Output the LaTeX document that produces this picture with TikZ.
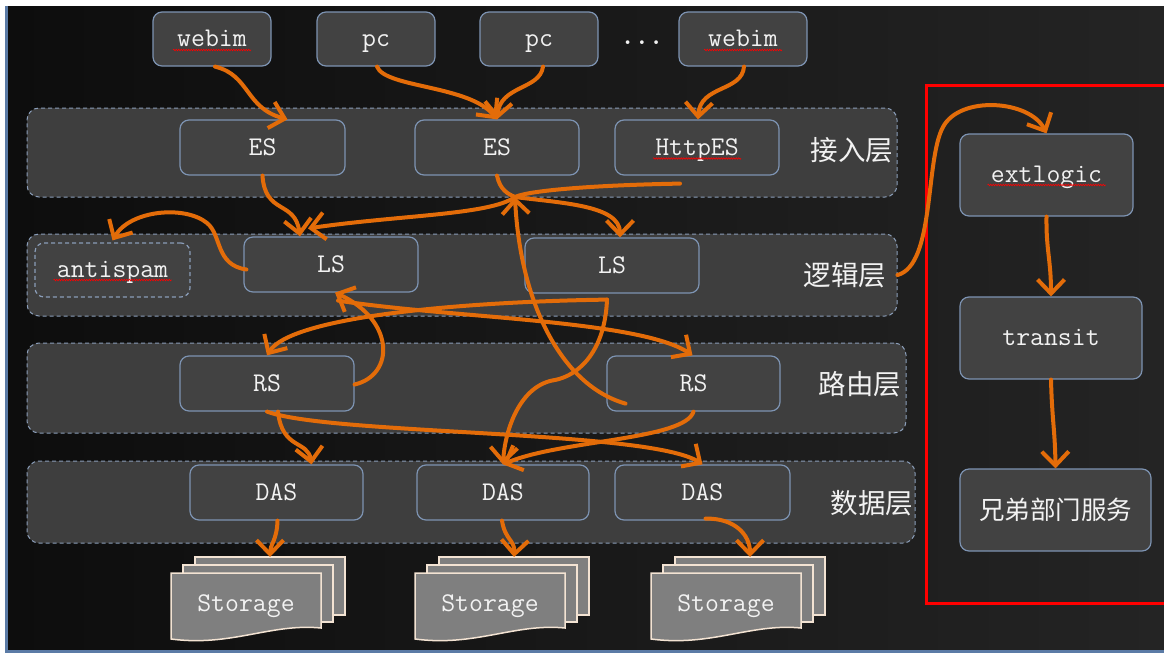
\documentclass[tikz,border=0pt]{standalone}
\usepackage{fontspec}
\newfontfamily\cjk{Noto Sans CJK SC}
\usetikzlibrary{arrows.meta,decorations.pathmorphing}
\definecolor{bgL}{HTML}{0D0D0D}
\definecolor{bgR}{HTML}{242424}
\definecolor{boxfill}{HTML}{424242}
\definecolor{boxline}{HTML}{7D93B2}
\definecolor{bandfill}{HTML}{3E3E3E}
\definecolor{bandline}{HTML}{8A9DB8}
\definecolor{arr}{HTML}{E36C09}
\definecolor{txt}{HTML}{F2F2F2}
\definecolor{stfill}{HTML}{7F7F7F}
\definecolor{stline}{HTML}{F3E3D3}
\definecolor{framec}{HTML}{5B7BA6}
\tikzset{
  box/.style={draw=boxline, fill=boxfill, rounded corners=9pt, line width=1.2pt, text=txt,
    font=\ttfamily\fontsize{27}{27}\selectfont, inner sep=0pt, text height=19pt, text depth=4pt},
  dbox/.style={box, draw=bandline, dash pattern=on 4pt off 3pt},
  band/.style={draw=bandline, fill=bandfill, dash pattern=on 4pt off 3pt, rounded corners=12pt, line width=1pt, inner sep=0pt},
  layerlbl/.style={text=txt, font=\cjk\fontsize{27.5}{27.5}\selectfont},
  cjkbox/.style={draw=boxline, fill=boxfill, rounded corners=9pt, line width=1.2pt, text=txt,
    font=\cjk\fontsize{25.5}{25.5}\selectfont, inner sep=0pt},
  flow/.style={draw=arr, line width=4pt, line cap=round, line join=round,
    -{Straight Barb[length=14pt,width=27pt]}},
  squig/.style={draw=red, line width=0.6pt, decorate, decoration={snake, amplitude=0.8pt, segment length=2.5pt}},
  doc/.style={draw=stline, fill=stfill, line width=1.5pt},
  doctext/.style={text=txt, font=\ttfamily\fontsize{27}{27}\selectfont, inner sep=0pt},
}
\newcommand{\stackdoc}[2]{%
  \begin{scope}[shift={(#1)}]
    \draw[doc] (24,-16) rectangle (174,42);
    \draw[doc] (12,-8) rectangle (162,49);
    \draw[doc] (0,0) -- (150,0) -- (150,55) .. controls (100,50) and (60,74) .. (0,66) -- cycle;
    \node[doctext] (#2) at (75,33) {Storage};
    \coordinate (#2top) at (99,-16);
  \end{scope}}
\begin{document}
\begin{tikzpicture}[x=1pt,y=-1pt]
\useasboundingbox (0,0) rectangle (1164,653);
\clip (0,0) rectangle (1164,653);
% background
\fill[white] (0,0) rectangle (1164,653);
\shade[left color=bgL, right color=bgR] (8,6) rectangle (1164,650);
\fill[framec] (5,6) rectangle (8,653);
\fill[framec] (5,650) rectangle (1164,653);

% layer bands
\node[band, minimum width=870pt, minimum height=89pt] (L1) at (462,152.5) {};
\node[band, minimum width=870pt, minimum height=82pt] (L2) at (462,275) {};
\node[band, minimum width=879pt, minimum height=90pt] (L3) at (466.5,388) {};
\node[band, minimum width=888pt, minimum height=82pt] (L4) at (471,502) {};
\node[layerlbl] (l1t) at (852,150) {接入层};
\node[layerlbl] (l2t) at (845,275) {逻辑层};
\node[layerlbl] (l3t) at (860,384) {路由层};
\node[layerlbl] (l4t) at (872,503) {数据层};

% red frame
\draw[red, line width=3pt] (1170,85) -- (926,85) -- (926,603) -- (1170,603);

% clients
\node[box, minimum width=118pt, minimum height=54pt] (webim1) at (212,39) {webim};
\node[box, minimum width=118pt, minimum height=54pt] (pc1) at (376,39) {pc};
\node[box, minimum width=118pt, minimum height=54pt] (pc2) at (539,39) {pc};
\node[text=txt, font=\ttfamily\bfseries\fontsize{27}{27}\selectfont, inner sep=0pt] (dots) at (642,43) {...};
\node[box, minimum width=128pt, minimum height=54pt] (webim2) at (743,39) {webim};

% access layer
\node[box, minimum width=165pt, minimum height=55pt] (ES1) at (262.5,147.5) {ES};
\node[box, minimum width=164pt, minimum height=55pt] (ES2) at (497,147.5) {ES};
\node[box, minimum width=164pt, minimum height=55pt] (HttpES) at (697,147.5) {HttpES};

% logic layer
\node[dbox, minimum width=155pt, minimum height=54pt] (antispam) at (112.5,270) {antispam};
\node[box, minimum width=174pt, minimum height=55pt] (LS1) at (331,264.5) {LS};
\node[box, minimum width=174pt, minimum height=55pt] (LS2) at (612,265.5) {LS};

% routing layer
\node[box, minimum width=174pt, minimum height=55pt] (RS1) at (267,383.5) {RS};
\node[box, minimum width=173pt, minimum height=55pt] (RS2) at (693.5,383.5) {RS};

% data layer
\node[box, minimum width=173pt, minimum height=55pt] (DAS1) at (276.5,492.5) {DAS};
\node[box, minimum width=172pt, minimum height=55pt] (DAS2) at (503,492.5) {DAS};
\node[box, minimum width=175pt, minimum height=55pt] (DAS3) at (702.5,492.5) {DAS};

% storage
\stackdoc{171,573}{st1}
\stackdoc{415,573}{st2}
\stackdoc{651,573}{st3}

% external
\node[box, minimum width=173pt, minimum height=82pt] (extlogic) at (1046.5,175) {extlogic};
\node[box, minimum width=182pt, minimum height=82pt] (transit) at (1051,338) {transit};
\node[cjkbox, minimum width=191pt, minimum height=82pt] (xd) at (1055.5,510) {兄弟部门服务};

% spell-check squiggles
\draw[squig] ([xshift=-39pt,yshift=-11pt]webim1.center) -- ++(78,0);
\draw[squig] ([xshift=-39pt,yshift=-11pt]webim2.center) -- ++(78,0);
\draw[squig] ([xshift=-44pt,yshift=-11pt]HttpES.center) -- ++(88,0);
\draw[squig] ([xshift=-59pt,yshift=-10pt]antispam.center) -- ++(118,0);
\draw[squig] ([xshift=-59pt,yshift=-10pt]extlogic.center) -- ++(118,0);

% helper coordinates
\coordinate (hub) at (515,197);
\coordinate (ls2out) at ([xshift=-5pt,yshift=-6pt]LS2.south);

% arrows
\draw[flow] ([xshift=3pt]webim1.south) .. controls (250,75) and (245,108) .. ([xshift=25pt]ES1.north);
\draw[flow] ([xshift=1pt]pc1.south) .. controls (385,88) and (470,85) .. (ES2.north);
\draw[flow] ([xshift=4pt]pc2.south) .. controls (540,90) and (500,85) .. (ES2.north);
\draw[flow] ([xshift=1pt]webim2.south) .. controls (742,92) and (700,85) .. ([xshift=1pt]HttpES.north);
\draw[flow] (ES1.south) .. controls (265,215) and (295,200) .. ([xshift=-31pt]LS1.north);
\draw[flow] (ES2.south) .. controls (500,190) and (508,194) .. (hub) .. controls (560,203) and (620,205) .. ([xshift=8pt]LS2.north);
\draw[flow] ([xshift=-17pt,yshift=-8pt]HttpES.south) .. controls (600,185) and (530,190) .. (hub) .. controls (490,215) and (400,215) .. ([xshift=-23pt,yshift=8pt]LS1.north);
\draw[flow] ([xshift=-68pt,yshift=8pt]RS2.south) .. controls (560,385) and (520,300) .. (hub);
\draw[flow] ([xshift=3pt,yshift=-5pt]LS1.west) .. controls (215,265) and (222,235) .. (207,223) .. controls (185,205) and (130,210) .. ([yshift=2pt]antispam.north);
\draw[flow] ([yshift=-1pt]RS1.east) .. controls (395,375) and (395,320) .. ([xshift=4pt]LS1.south);
\draw[flow] ([xshift=7pt,yshift=-8pt]LS1.south) .. controls (450,318) and (640,320) .. ([xshift=-1pt]RS2.north);
\draw[flow] (ls2out) .. controls (450,302) and (290,318) .. (RS1.north);
\draw[flow] (ls2out) .. controls (605,350) and (580,375) .. (555,380) .. controls (520,385) and (505,430) .. (DAS2.north);
\draw[flow] ([xshift=11pt]RS1.south) .. controls (282,450) and (308,440) .. ([xshift=35pt]DAS1.north);
\draw[flow] (RS1.south) .. controls (330,435) and (650,430) .. (DAS3.north);
\draw[flow] (RS2.south) .. controls (685,440) and (560,440) .. (DAS2.north);
\draw[flow] ([xshift=1pt]DAS1.south) .. controls (277,540) and (270,545) .. (st1top);
\draw[flow] ([xshift=-1pt]DAS2.south) .. controls (505,540) and (515,540) .. (st2top);
\draw[flow] ([xshift=3pt,yshift=2pt]DAS3.south) .. controls (735,518) and (750,535) .. (st3top);
\draw[flow] (L2.east) .. controls (935,265) and (925,160) .. (943,127) .. controls (960,95) and (1030,100) .. (extlogic.north);
\draw[flow] (extlogic.south) .. controls (1046,250) and (1051,260) .. (transit.north);
\draw[flow] (transit.south) .. controls (1052,420) and (1055,430) .. (xd.north);
\end{tikzpicture}
\end{document}
